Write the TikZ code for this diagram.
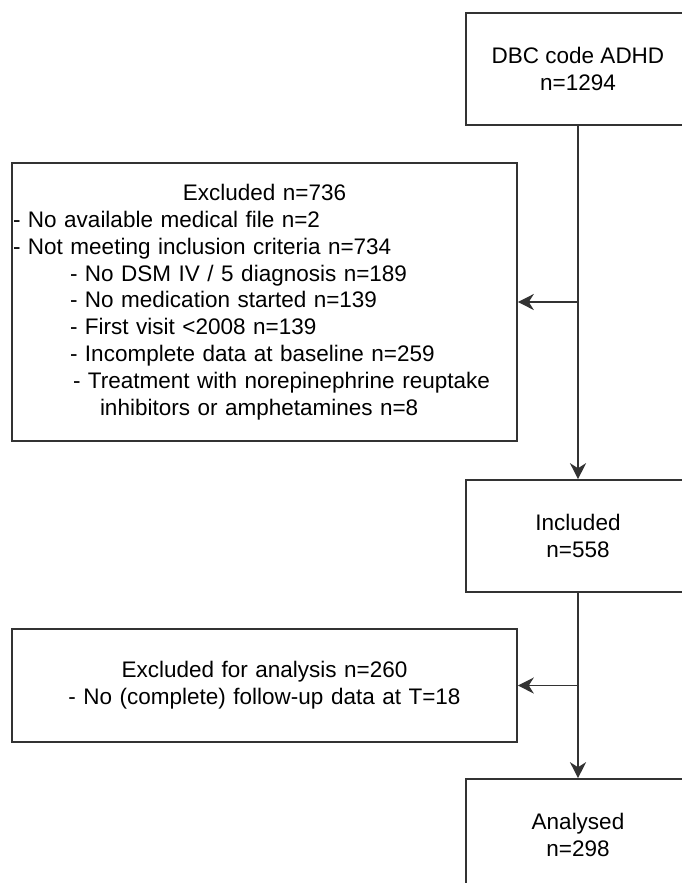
\documentclass[tikz,border=0pt]{standalone}
\usepackage{fontspec}
\setmainfont{Liberation Sans}
\usetikzlibrary{arrows.meta}
\usetikzlibrary{positioning}

\begin{document}
\begin{tikzpicture}[x=1pt, y=-1pt,
	flowbox/.style={draw=black!80, line width=1.6pt, rectangle, inner sep=1pt, minimum width=224pt, minimum height=112pt, align=center, text=black, font=\fontsize{22.5}{27}\selectfont},
	exclbox/.style={flowbox, minimum width=505pt, text width=503pt, font=\fontsize{22.5}{26.8}\selectfont},
	arr/.style={draw=black!80, line width=1.6pt, -{Stealth[length=16pt,width=16pt,inset=5pt]}}]
	\useasboundingbox (0,0) rectangle (682,883);
	\clip (0,0) rectangle (682,883);
	%main boxes
	\node[flowbox] (dbc) at (578,69) {DBC code ADHD\\n=1294};
	\node[flowbox] (incl) at (578,536) {Included\\n=558};
	\node[flowbox] (anal) at (578,835) {Analysed\\n=298};
	%exclusion boxes
	\node[exclbox, align=left, minimum height=278pt] (excl) at (264.5,302) {\makebox[\linewidth]{Excluded n=736}\\
		- No available medical file n=2\\
		- Not meeting inclusion criteria n=734\\
		\hspace*{57pt}- No DSM IV / 5 diagnosis n=189\\
		\hspace*{57pt}- No medication started n=139\\
		\hspace*{57pt}- First visit <2008 n=139\\
		\hspace*{57pt}- Incomplete data at baseline n=259\\
		\hspace*{60pt}- Treatment with norepinephrine reuptake\\
		\hspace*{87pt}inhibitors or amphetamines n=8};
	\node[exclbox, align=center, minimum height=113pt] (anexcl) at (264.5,685.5) {Excluded for analysis n=260\\- No (complete) follow-up data at T=18};
	%arrows
	\coordinate (split1) at (dbc.south |- excl.east);
	\coordinate (split2) at (incl.south |- anexcl.east);
	\draw[arr] (dbc) -- (incl);
	\draw[arr] (incl) -- (anal);
	\draw[arr] (split1) -- (excl.east);
	\draw[arr] (split2) -- (anexcl.east);
\end{tikzpicture}
\end{document}
